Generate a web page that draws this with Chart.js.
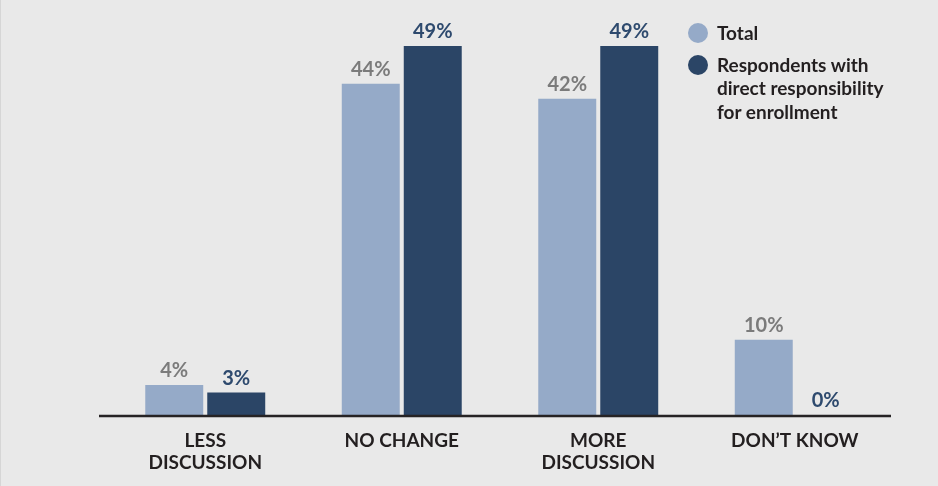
<!DOCTYPE html>
<html>
<head>
<meta charset="utf-8">
<script src="https://cdn.jsdelivr.net/npm/chart.js@4/dist/chart.umd.min.js"></script>
<style>
  html, body { margin: 0; padding: 0; }
  body { width: 938px; height: 486px; background: #e9e9e9; position: relative; overflow: hidden; font-family: 'Lato', sans-serif; }
  .frame { position: absolute; left: 0; top: 0; width: 937px; height: 486px; border-left: 1px solid #d6d6d6; }
  #chart-wrap { position: absolute; left: 0; top: 0; width: 938px; height: 486px; }
  .legend { position: absolute; left: 688px; top: 21px; color: #231f20; font-weight: 700; font-size: 19px; line-height: 23.5px; }
  .legend .item { position: relative; padding-left: 29px; margin-bottom: 8px; }
  .legend .dot { position: absolute; left: 0; top: 2px; width: 20px; height: 20px; border-radius: 50%; }
</style>
</head>
<body>
<div class="frame"></div>
<div id="chart-wrap"><canvas id="chart-change"></canvas></div>
<div class="legend" id="legend"></div>
<script>
  // categories, series and colours
  const categories = [['LESS', 'DISCUSSION'], 'NO CHANGE', ['MORE', 'DISCUSSION'], 'DON\u2019T KNOW'];
  const seriesNames = ['Total', 'Respondents with<br>direct responsibility<br>for enrollment'];
  const totalValues = [4, 44, 42, 10];
  const directValues = [3, 49, 49, 0];
  const barColors = ['#95aac8', '#2b4566'];
  const labelColors = ['#7b7b7b', '#2e4a6e'];

  // legend
  const legend = document.getElementById('legend');
  seriesNames.forEach((name, i) => {
    const item = document.createElement('div');
    item.className = 'item';
    item.innerHTML = '<span class="dot" style="background:' + barColors[i] + '"></span>' + name;
    legend.appendChild(item);
  });

  // value labels above every bar + the baseline
  const barLabels = {
    id: 'barLabels',
    afterDatasetsDraw(chart) {
      const ctx = chart.ctx;
      const area = chart.chartArea;
      ctx.save();
      ctx.strokeStyle = '#262324';
      ctx.lineWidth = 2.5;
      ctx.beginPath();
      ctx.moveTo(area.left - 8, area.bottom + 1);
      ctx.lineTo(area.right - 2, area.bottom + 1);
      ctx.stroke();

      ctx.font = "700 20px 'Lato', sans-serif";
      ctx.textAlign = 'center';
      ctx.textBaseline = 'bottom';
      chart.data.datasets.forEach((ds, di) => {
        ctx.fillStyle = labelColors[di];
        chart.getDatasetMeta(di).data.forEach((bar, i) => {
          ctx.fillText(ds.data[i] + '%', bar.x, bar.y - 4);
        });
      });
      ctx.restore();
    }
  };

  new Chart(document.getElementById('chart-change'), {
    type: 'bar',
    data: {
      labels: categories,
      datasets: [
        { label: 'Total', data: totalValues, backgroundColor: barColors[0] },
        { label: 'Respondents with direct responsibility for enrollment', data: directValues, backgroundColor: barColors[1] }
      ]
    },
    options: {
      responsive: true,
      maintainAspectRatio: false,
      animation: false,
      categoryPercentage: 0.631,
      barPercentage: 0.935,
      layout: { padding: { left: 107, right: 45, top: 46, bottom: 0 } },
      plugins: { legend: { display: false }, tooltip: { enabled: false } },
      scales: {
        y: { display: false, min: 0, max: 49 },
        x: {
          grid: { display: false },
          border: { display: false },
          ticks: {
            color: '#231f20',
            padding: 6,
            font: { family: "'Lato', sans-serif", size: 19, weight: '700', lineHeight: 1.2 },
            maxRotation: 0
          },
          afterFit(scale) { scale.height = 71; }
        }
      }
    },
    plugins: [barLabels]
  });
</script>
</body>
</html>
